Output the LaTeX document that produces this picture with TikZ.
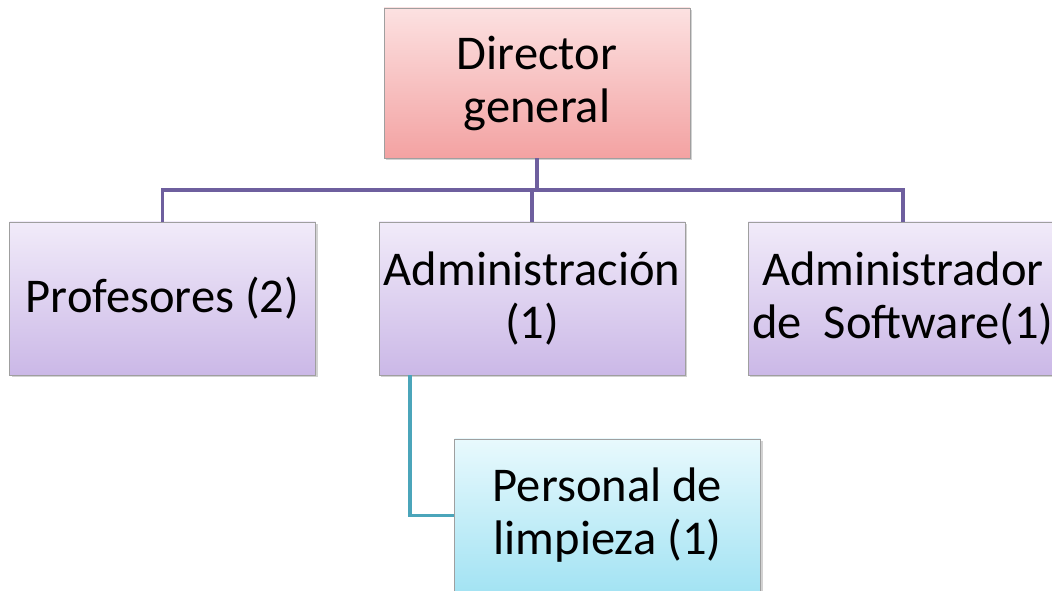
\documentclass[tikz,border=0pt]{standalone}
\usepackage{fontspec}
\setmainfont{Carlito}
\usepackage{xcolor}
\usetikzlibrary{positioning,shadows}

\definecolor{pinktop}{HTML}{FCE1E1}
\definecolor{pinkbot}{HTML}{F3A2A2}
\definecolor{lavtop}{HTML}{F1EBF9}
\definecolor{lavbot}{HTML}{CBB8E7}
\definecolor{cyantop}{HTML}{E8F9FD}
\definecolor{cyanbot}{HTML}{A3E3F3}
\definecolor{linkpurple}{HTML}{6E5F9E}
\definecolor{linkteal}{HTML}{4BA5BA}

\begin{document}
\begin{tikzpicture}[
  x=1pt,y=1pt,
  node distance=64pt and 63pt,
  box/.style={draw=gray!75,inner sep=4pt,align=center,minimum width=306pt,minimum height=153pt,
    font=\fontsize{48.5}{53}\selectfont,
    drop shadow={shadow xshift=2pt,shadow yshift=-2pt,fill=black!35,opacity=0.5}},
  topbox/.style={box,top color=pinktop,bottom color=pinkbot,minimum height=150pt},
  unitbox/.style={box,top color=lavtop,bottom color=lavbot},
  subbox/.style={box,top color=cyantop,bottom color=cyanbot},
  link/.style={draw=linkpurple,line width=3.5pt},
  sublink/.style={draw=linkteal,line width=3.5pt}
]
\path[use as bounding box,clip] (0,0) rectangle (1052,591);

\node[topbox] (dir) at (537,508) {Director\\general};
\node[unitbox] (adm) at (532,292.5) {Administración\\(1)};
\node[unitbox, left=of adm] (prof) {Profesores (2)};
\node[unitbox, right=of adm] (soft) {Administrador\\de~~Software(1)};
\node[subbox] (pers) at (607.5,75.5) {Personal de\\limpieza (1)};

\draw[link] (dir.south) -- ++(0,-32) coordinate (hub);
\draw[link] (hub) -| (prof.north);
\draw[link] (hub) -| (soft.north);
\draw[link] (hub -| adm.north) -- (adm.north);
\draw[sublink] ([xshift=-122pt]adm.south) |- (pers.west);
\end{tikzpicture}
\end{document}
